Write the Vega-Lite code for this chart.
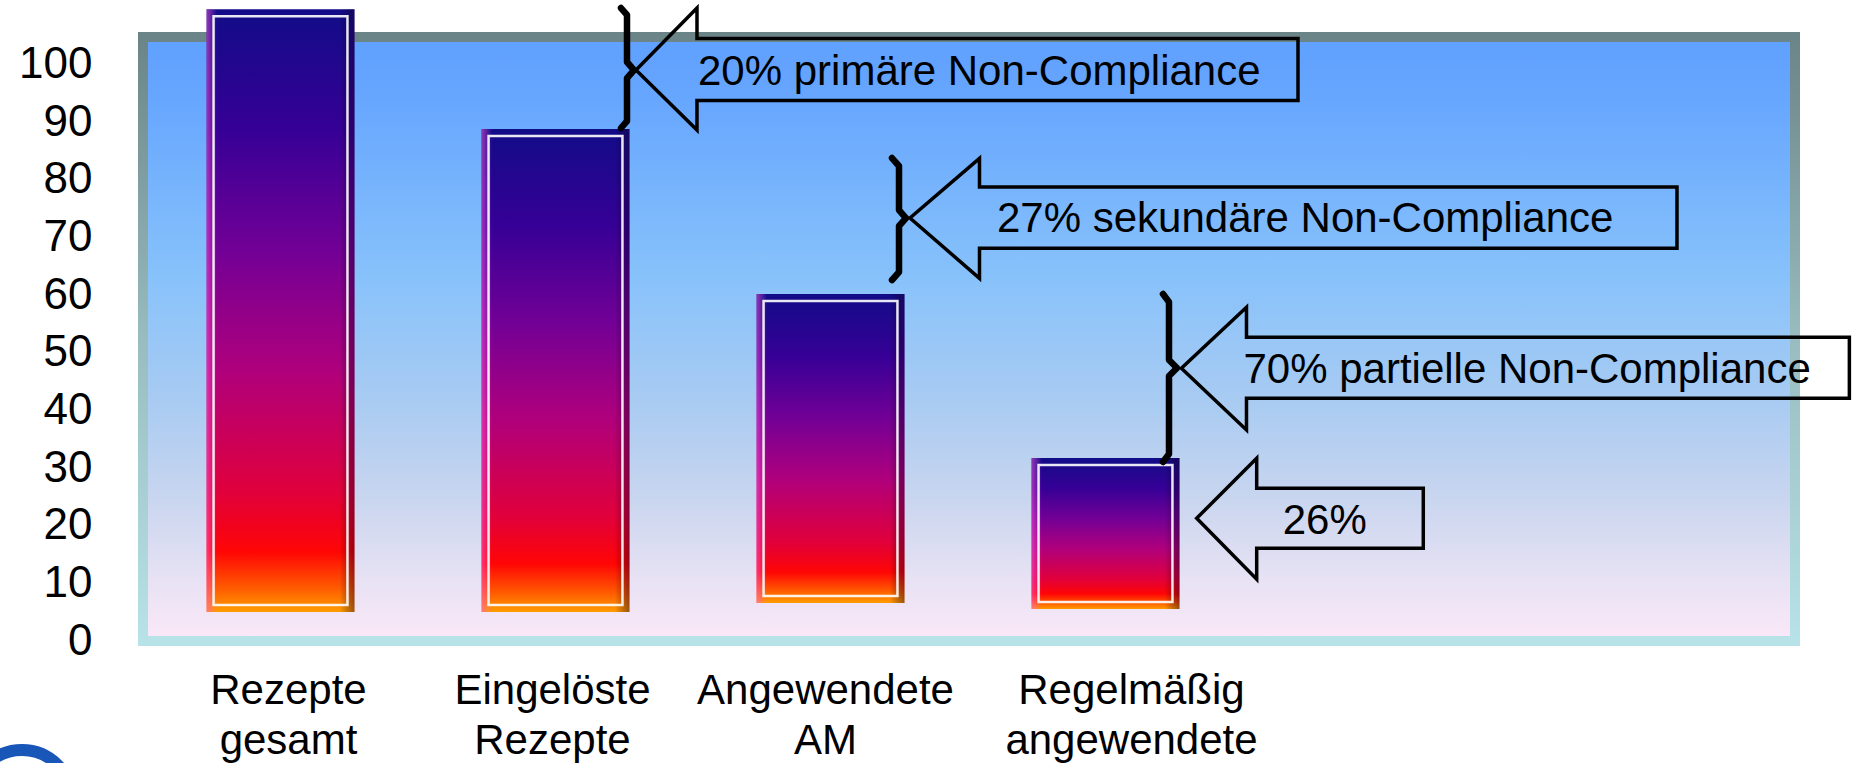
{
  "$schema": "https://vega.github.io/schema/vega-lite/v6.json",
  "width": 1652,
  "height": 604,
  "autosize": {"type": "none"},
  "padding": {"left": 143, "top": 37, "right": 58, "bottom": 122},
  "background": "white",
  "config": {
    "view": {"stroke": null},
    "font": "Liberation Sans",
    "text": {"font": "Liberation Sans"},
    "axisY": {
      "title": null, "domain": false, "ticks": false, "tickSize": 0, "grid": false,
      "labelFontSize": 44, "labelFont": "Liberation Sans", "labelColor": "black",
      "labelPadding": 51, "labelOverlap": false, "labelFlush": false
    }
  },
  "datasets": {
    "bars": [
      {"cat": "Rezepte gesamt", "top": 109.61, "base": 5.03},
      {"cat": "Eingelöste Rezepte", "top": 88.84, "base": 5.03},
      {"cat": "Angewendete AM", "top": 60.21, "base": 6.59},
      {"cat": "Regelmäßig angewendete", "top": 31.75, "base": 5.55}
    ],
    "arrows": [
      {"id": "a1", "o": 0, "x": 2.2927, "y": 99.07},
      {"id": "a1", "o": 1, "x": 2.5145, "y": 109.83},
      {"id": "a1", "o": 2, "x": 2.5145, "y": 104.54},
      {"id": "a1", "o": 3, "x": 4.7, "y": 104.54},
      {"id": "a1", "o": 4, "x": 4.7, "y": 93.78},
      {"id": "a1", "o": 5, "x": 2.5145, "y": 93.78},
      {"id": "a1", "o": 6, "x": 2.5145, "y": 88.66},
      {"id": "a1", "o": 7, "x": 2.2927, "y": 99.07},
      {"id": "a1", "o": 8, "x": 2.5145, "y": 109.83},
      {"id": "a2", "o": 0, "x": 3.2891, "y": 73.39},
      {"id": "a2", "o": 1, "x": 3.5418, "y": 83.75},
      {"id": "a2", "o": 2, "x": 3.5418, "y": 78.77},
      {"id": "a2", "o": 3, "x": 6.0782, "y": 78.77},
      {"id": "a2", "o": 4, "x": 6.0782, "y": 68.14},
      {"id": "a2", "o": 5, "x": 3.5418, "y": 68.14},
      {"id": "a2", "o": 6, "x": 3.5418, "y": 62.93},
      {"id": "a2", "o": 7, "x": 3.2891, "y": 73.39},
      {"id": "a2", "o": 8, "x": 3.5418, "y": 83.75},
      {"id": "a3", "o": 0, "x": 4.276, "y": 47.32},
      {"id": "a3", "o": 1, "x": 4.5127, "y": 57.9},
      {"id": "a3", "o": 2, "x": 4.5127, "y": 52.69},
      {"id": "a3", "o": 3, "x": 6.705, "y": 52.69},
      {"id": "a3", "o": 4, "x": 6.705, "y": 42.11},
      {"id": "a3", "o": 5, "x": 4.5127, "y": 42.11},
      {"id": "a3", "o": 6, "x": 4.5127, "y": 36.61},
      {"id": "a3", "o": 7, "x": 4.276, "y": 47.32},
      {"id": "a3", "o": 8, "x": 4.5127, "y": 57.9},
      {"id": "a4", "o": 0, "x": 4.3316, "y": 21.29},
      {"id": "a4", "o": 1, "x": 4.5498, "y": 31.7},
      {"id": "a4", "o": 2, "x": 4.5498, "y": 26.49},
      {"id": "a4", "o": 3, "x": 5.1556, "y": 26.49},
      {"id": "a4", "o": 4, "x": 5.1556, "y": 16.08},
      {"id": "a4", "o": 5, "x": 4.5498, "y": 16.08},
      {"id": "a4", "o": 6, "x": 4.5498, "y": 10.71},
      {"id": "a4", "o": 7, "x": 4.3316, "y": 21.29},
      {"id": "a4", "o": 8, "x": 4.5498, "y": 31.7}
    ],
    "braces": [
      {"id": "b1", "o": 0, "x": 2.2382, "y": 109.83},
      {"id": "b1", "o": 1, "x": 2.26, "y": 108.62},
      {"id": "b1", "o": 2, "x": 2.26, "y": 100.46},
      {"id": "b1", "o": 3, "x": 2.2855, "y": 99.07},
      {"id": "b1", "o": 4, "x": 2.26, "y": 97.68},
      {"id": "b1", "o": 5, "x": 2.26, "y": 90.22},
      {"id": "b1", "o": 6, "x": 2.2382, "y": 89.01},
      {"id": "b2", "o": 0, "x": 3.2236, "y": 83.8},
      {"id": "b2", "o": 1, "x": 3.2491, "y": 82.42},
      {"id": "b2", "o": 2, "x": 3.2491, "y": 74.78},
      {"id": "b2", "o": 3, "x": 3.2745, "y": 73.39},
      {"id": "b2", "o": 4, "x": 3.2491, "y": 72.01},
      {"id": "b2", "o": 5, "x": 3.2491, "y": 64.02},
      {"id": "b2", "o": 6, "x": 3.2236, "y": 62.64},
      {"id": "b3", "o": 0, "x": 4.2091, "y": 60.21},
      {"id": "b3", "o": 1, "x": 4.2309, "y": 58.82},
      {"id": "b3", "o": 2, "x": 4.2309, "y": 48.76},
      {"id": "b3", "o": 3, "x": 4.26, "y": 47.37},
      {"id": "b3", "o": 4, "x": 4.2309, "y": 45.98},
      {"id": "b3", "o": 5, "x": 4.2309, "y": 32.45},
      {"id": "b3", "o": 6, "x": 4.2091, "y": 31.06}
    ],
    "notes": [
      {"x": 2.5182, "y": 96.47, "text": "20% primäre Non-Compliance"},
      {"x": 3.6055, "y": 70.96, "text": "27% sekundäre Non-Compliance"},
      {"x": 4.5018, "y": 44.71, "text": "70% partielle Non-Compliance"},
      {"x": 4.6444, "y": 18.57, "text": "26%"}
    ],
    "logo": [{"x": 0.06, "y": -27.59}]
  },
  "resolve": {"scale": {"x": "independent"}},
  "layer": [
    {
      "data": {"values": [{}]},
      "mark": {
        "type": "rect",
        "fill": {"gradient": "linear", "x1": 0, "y1": 0, "x2": 0, "y2": 1, "stops": [
          {"offset": 0, "color": "#60a0ff"},
          {"offset": 0.1, "color": "#66a6fe"},
          {"offset": 0.4, "color": "#88c2fb"},
          {"offset": 0.6, "color": "#a8cbf2"},
          {"offset": 0.77, "color": "#cad6ef"},
          {"offset": 0.9, "color": "#e8e2f4"},
          {"offset": 1, "color": "#fae8f8"}
        ]},
        "stroke": {"gradient": "linear", "x1": 0, "y1": 0, "x2": 0, "y2": 1, "stops": [
          {"offset": 0, "color": "#6b8487"},
          {"offset": 0.5, "color": "#98bcbf"},
          {"offset": 1, "color": "#b7e2e7"}
        ]},
        "strokeWidth": 10
      },
      "encoding": {}
    },
    {
      "data": {"name": "bars"},
      "mark": {
        "type": "bar",
        "fill": {"gradient": "linear", "x1": 0, "y1": 0, "x2": 0, "y2": 1, "stops": [
          {"offset": 0, "color": "#120c88"},
          {"offset": 0.2, "color": "#360096"},
          {"offset": 0.4, "color": "#720096"},
          {"offset": 0.6, "color": "#b0007c"},
          {"offset": 0.8, "color": "#e0003c"},
          {"offset": 0.9, "color": "#ff0505"},
          {"offset": 0.96, "color": "#ff5a00"},
          {"offset": 1, "color": "#ff9d00"}
        ]}
      },
      "encoding": {
        "x": {
          "field": "cat", "type": "nominal", "sort": null,
          "scale": {"domain": ["Rezepte gesamt", "Eingelöste Rezepte", "Angewendete AM", "Regelmäßig angewendete"], "range": [0, 1100], "paddingInner": 0.462, "paddingOuter": 0.231},
          "axis": {
            "title": null, "domain": false, "ticks": false, "tickSize": 0, "grid": false,
            "labelAngle": 0, "labelFontSize": 42, "labelFont": "Liberation Sans", "labelColor": "black",
            "labelLineHeight": 50, "labelPadding": 29, "labelLimit": 0,
            "labelExpr": "split(datum.label, ' ')",
            "labelOffset": {"condition": [
              {"test": "datum.value === 'Rezepte gesamt'", "value": 8},
              {"test": "datum.value === 'Eingelöste Rezepte'", "value": -3},
              {"test": "datum.value === 'Angewendete AM'", "value": -5}
            ], "value": 26}
          }
        },
        "y": {
          "field": "top", "type": "quantitative",
          "scale": {"domain": [0, 104.8], "nice": false, "zero": false},
          "axis": {"title": null, "values": [0, 10, 20, 30, 40, 50, 60, 70, 80, 90, 100]}
        },
        "y2": {"field": "base"}
      }
    },
    {
      "data": {"name": "bars"},
      "mark": {
        "type": "bar",
        "fill": {"gradient": "linear", "x1": 0, "y1": 0, "x2": 1, "y2": 0, "stops": [
          {"offset": 0, "color": "rgba(255,90,220,0.55)"},
          {"offset": 0.07, "color": "rgba(255,90,220,0)"},
          {"offset": 0.9, "color": "rgba(0,0,0,0)"},
          {"offset": 1, "color": "rgba(30,0,40,0.45)"}
        ]}
      },
      "encoding": {
        "x": {
          "field": "cat", "type": "nominal", "sort": null,
          "scale": {"domain": ["Rezepte gesamt", "Eingelöste Rezepte", "Angewendete AM", "Regelmäßig angewendete"], "range": [0, 1100], "paddingInner": 0.462, "paddingOuter": 0.231},
          "axis": null
        },
        "y": {"field": "top", "type": "quantitative", "scale": {"domain": [0, 104.8], "nice": false, "zero": false}, "axis": {"title": null, "values": [0, 10, 20, 30, 40, 50, 60, 70, 80, 90, 100]}},
        "y2": {"field": "base"}
      }
    },
    {
      "data": {"name": "bars"},
      "mark": {"type": "bar", "fill": "transparent", "stroke": "#ffffff", "strokeWidth": 2.5, "strokeOpacity": 0.9, "width": {"band": 0.905}, "yOffset": 7, "y2Offset": -7},
      "encoding": {
        "x": {
          "field": "cat", "type": "nominal", "sort": null,
          "scale": {"domain": ["Rezepte gesamt", "Eingelöste Rezepte", "Angewendete AM", "Regelmäßig angewendete"], "range": [0, 1100], "paddingInner": 0.462, "paddingOuter": 0.231},
          "axis": null
        },
        "y": {"field": "top", "type": "quantitative", "scale": {"domain": [0, 104.8], "nice": false, "zero": false}, "axis": {"title": null, "values": [0, 10, 20, 30, 40, 50, 60, 70, 80, 90, 100]}},
        "y2": {"field": "base"}
      }
    },
    {
      "data": {"name": "arrows"},
      "mark": {"type": "line", "color": "black", "stroke": "black", "strokeWidth": 3.5, "strokeJoin": "miter", "strokeMiterLimit": 10},
      "encoding": {
        "x": {"field": "x", "type": "quantitative", "scale": {"domain": [0.5, 6.5073], "nice": false, "zero": false}, "axis": null},
        "y": {"field": "y", "type": "quantitative", "scale": {"domain": [0, 104.8], "nice": false, "zero": false}, "axis": {"title": null, "values": [0, 10, 20, 30, 40, 50, 60, 70, 80, 90, 100]}},
        "detail": {"field": "id"},
        "order": {"field": "o"}
      }
    },
    {
      "data": {"name": "braces"},
      "mark": {"type": "line", "color": "black", "stroke": "black", "strokeWidth": 6.5, "strokeJoin": "round", "strokeCap": "round"},
      "encoding": {
        "x": {"field": "x", "type": "quantitative", "scale": {"domain": [0.5, 6.5073], "nice": false, "zero": false}, "axis": null},
        "y": {"field": "y", "type": "quantitative", "scale": {"domain": [0, 104.8], "nice": false, "zero": false}, "axis": {"title": null, "values": [0, 10, 20, 30, 40, 50, 60, 70, 80, 90, 100]}},
        "detail": {"field": "id"},
        "order": {"field": "o"}
      }
    },
    {
      "data": {"name": "notes"},
      "mark": {"type": "text", "align": "left", "baseline": "alphabetic", "fontSize": 42, "font": "Liberation Sans", "color": "black"},
      "encoding": {
        "x": {"field": "x", "type": "quantitative", "scale": {"domain": [0.5, 6.5073], "nice": false, "zero": false}, "axis": null},
        "y": {"field": "y", "type": "quantitative", "scale": {"domain": [0, 104.8], "nice": false, "zero": false}, "axis": {"title": null, "values": [0, 10, 20, 30, 40, 50, 60, 70, 80, 90, 100]}},
        "text": {"field": "text"}
      }
    },
    {
      "data": {"name": "logo"},
      "mark": {"type": "point", "shape": "circle", "filled": false, "stroke": "#1856b8", "strokeWidth": 12, "size": 10000, "opacity": 1},
      "encoding": {
        "x": {"field": "x", "type": "quantitative", "scale": {"domain": [0.5, 6.5073], "nice": false, "zero": false}, "axis": null},
        "y": {"field": "y", "type": "quantitative", "scale": {"domain": [0, 104.8], "nice": false, "zero": false}, "axis": {"title": null, "values": [0, 10, 20, 30, 40, 50, 60, 70, 80, 90, 100]}}
      }
    }
  ]
}
